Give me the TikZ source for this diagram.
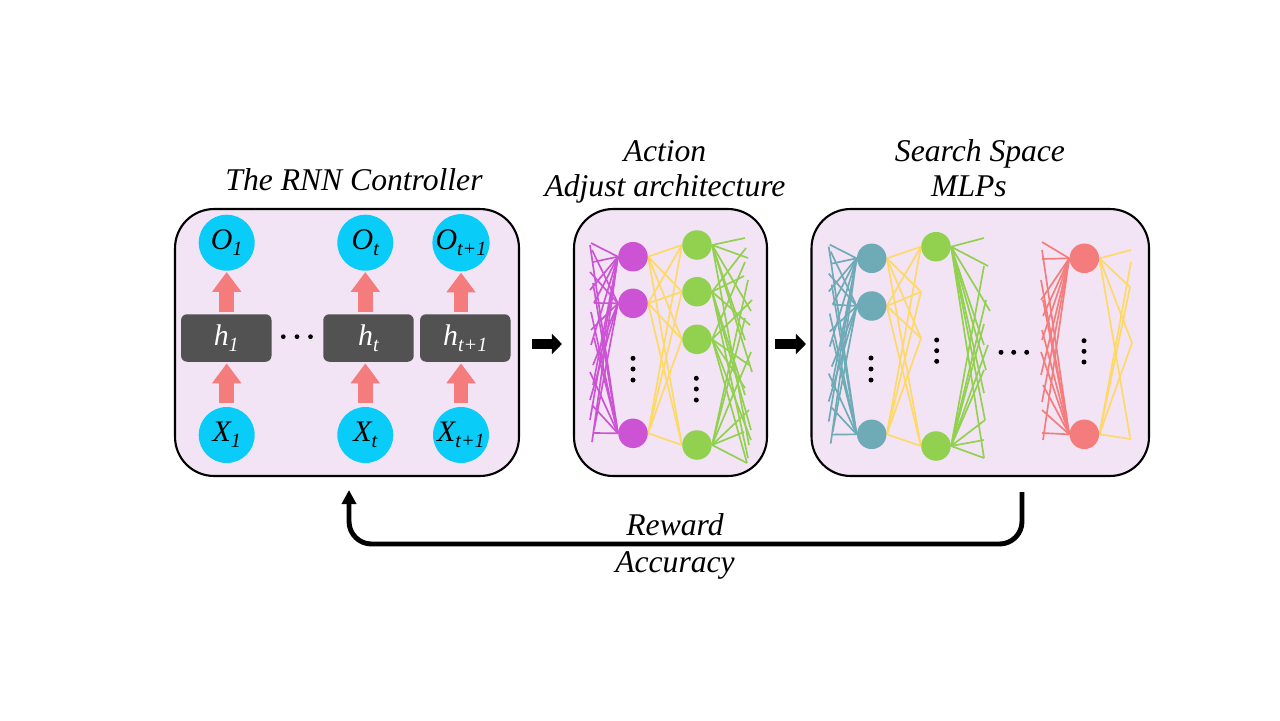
\documentclass[tikz,border=0pt]{standalone}
\usepackage{fontspec}
\setmainfont{Liberation Serif}
\usetikzlibrary{arrows.meta}
\definecolor{boxfill}{RGB}{242,228,244}
\definecolor{cyanc}{RGB}{10,204,248}
\definecolor{pinkc}{RGB}{244,124,124}
\definecolor{grayc}{RGB}{82,82,82}
\definecolor{purplec}{RGB}{204,84,212}
\definecolor{greenc}{RGB}{146,208,80}
\definecolor{yellowc}{RGB}{255,217,102}
\definecolor{tealc}{RGB}{111,170,183}
\pgfdeclarelayer{back}
\pgfdeclarelayer{mid}
\pgfsetlayers{back,mid,main}
\newcommand{\lbsub}[1]{\raisebox{-0.45ex}{\fontsize{11.5}{11.5}\selectfont #1}}
\begin{document}
\begin{tikzpicture}[x=0.02cm,y=-0.02cm,
  panel/.style={draw=black, line width=1.2pt, fill=boxfill, rounded corners=0.78cm, inner sep=0pt},
  io/.style={circle, fill=cyanc, minimum size=1.12cm, inner sep=0pt, font=\fontsize{17}{17}\selectfont\itshape},
  hid/.style={fill=grayc, rounded corners=0.12cm, minimum width=1.81cm, minimum height=0.95cm, inner sep=0pt, text=white, font=\fontsize{17}{17}\selectfont\itshape},
  neuron/.style={circle, minimum size=0.59cm, inner sep=0pt},
  fat/.style={draw=pinkc, line width=8.5pt, -{Triangle[length=11.3pt,width=16pt]}},
  blk/.style={draw=black, line width=5.7pt, -{Triangle[length=5.7pt,width=11.3pt]}},
  dot/.style={circle, fill=black, minimum size=0.1cm, inner sep=0pt},
  lbl/.style={font=\fontsize{18}{18}\selectfont\itshape, anchor=base},
  net/.style={line width=0.95pt}
]
\useasboundingbox (0,0) rectangle (1280,720);

% panels
\begin{pgfonlayer}{back}
\node[panel, minimum width=6.88cm, minimum height=5.34cm] (rnn) at (347,342.5) {};
\node[panel, minimum width=3.86cm, minimum height=5.34cm] (act) at (670.5,342.5) {};
\node[panel, minimum width=6.75cm, minimum height=5.34cm] (ss) at (980.25,342.5) {};
\end{pgfonlayer}

% titles
\node[lbl] (t1) at (354,190) {The RNN Controller};
\node[lbl] (t2) at (665,161) {Action};
\node[lbl] (t3) at (665,196) {Adjust architecture};
\node[lbl] (t4) at (980,161) {Search Space};
\node[lbl] (t5) at (969,196) {MLPs};
\node[lbl] (t6) at (675,535) {Reward};
\node[lbl] (t7) at (675,572) {Accuracy};

% RNN controller
\node[io] (O1) at (226.7,242.7) {O\lbsub{1}};
\node[io] (Ot) at (365.3,242.7) {O\lbsub{t}};
\node[io] (Ot1) at (461,242.7) {O\lbsub{t+1}};
\node[hid] (h1) at (226.3,338) {h\lbsub{1}};
\node[hid] (ht) at (368.5,338) {h\lbsub{t}};
\node[hid] (ht1) at (465.3,338) {h\lbsub{t+1}};
\node[io] (X1) at (226.7,435) {X\lbsub{1}};
\node[io] (Xt) at (365.3,435) {X\lbsub{t}};
\node[io] (Xt1) at (461,435) {X\lbsub{t+1}};
\foreach \x in {283.3,297,310.5} \node[dot, minimum size=0.095cm] at (\x,336.7) {};
\foreach \a/\b/\c in {X1/h1/O1, Xt/ht/Ot, Xt1/ht1/Ot1}{
  \draw[fat, shorten <=0.074cm, shorten >=0.026cm] (\a.north) -- (\a.north |- \b.south);
  \draw[fat, shorten <=0.046cm, shorten >=0.02cm] (\a.north |- \b.north) -- (\c.south);
}

% Action network
\node[neuron, fill=purplec] (P1) at (633,256.7) {};
\node[neuron, fill=purplec] (P2) at (633,303.3) {};
\node[neuron, fill=purplec] (P3) at (633,433.3) {};
\node[neuron, fill=greenc] (G1) at (697,245) {};
\node[neuron, fill=greenc] (G2) at (697,291.7) {};
\node[neuron, fill=greenc] (G3) at (697,339.3) {};
\node[neuron, fill=greenc] (G4) at (697,445) {};
\foreach \y in {358.3,369,380} \node[dot] at (633,\y) {};
\foreach \y in {378.3,389,400} \node[dot] at (696.3,\y) {};

% Search space network
\node[neuron, fill=tealc] (T1) at (871.7,258.3) {};
\node[neuron, fill=tealc] (T2) at (871.7,306) {};
\node[neuron, fill=tealc] (T3) at (871.7,434.3) {};
\node[neuron, fill=greenc] (GA) at (936,246.7) {};
\node[neuron, fill=greenc] (GB) at (936,446) {};
\node[neuron, fill=pinkc] (R1) at (1084.3,258.3) {};
\node[neuron, fill=pinkc] (R2) at (1084.3,434.3) {};
\coordinate (ya) at (921,291.7);
\coordinate (yb) at (921,338.3);
\foreach \y in {358,369,380} \node[dot] at (871,\y) {};
\foreach \y in {340,350.7,361.3} \node[dot] at (936.7,\y) {};
\foreach \x in {1001,1013.7,1026.7} \node[dot] at (\x,352.3) {};
\foreach \y in {340.7,351.3,362} \node[dot] at (1084,\y) {};

\begin{pgfonlayer}{mid}
% purple and teal fans
\foreach \n/\ex/\ey in {1/591/243,1/593/262,1/590/290,1/594/303,1/591/345,1/593/385,1/590/420,1/592/442,
  2/592/250,2/590/272,2/594/303,2/591/330,2/593/365,2/590/400,2/594/430,
  3/590/245,3/593/283,3/591/312,3/594/338,3/590/372,3/592/405,3/594/433}{
  \draw[net, purplec] (P\n.west) -- (\ex,\ey);
  \draw[net, tealc] (T\n.west) -- (\ex+238.7,\ey+1.6);
}
% yellow action
\foreach \a in {P1,P2,P3}{
  \foreach \b in {G1,G2,G3,G4} \draw[net, yellowc] (\a.east) -- (\b.west);
}
% green action
\foreach \n/\ex/\ey in {1/745/238,1/748/258,1/751/311,1/745/340,1/752/372,1/749/445,
  2/746/248,2/744/276,2/750/325,2/745/395,2/751/430,2/748/458,
  3/745/262,3/752/300,3/749/365,3/745/388,3/751/440,3/747/463,
  4/748/280,4/745/318,4/751/352,4/749/410,4/744/432,4/747/463}{
  \draw[net, greenc] (G\n.east) -- (\ex,\ey);
}
% yellow search space
\foreach \a in {T1,T2,T3}{
  \draw[net, yellowc] (\a.east) -- (GA.west);
  \draw[net, yellowc] (\a.east) -- (ya);
  \draw[net, yellowc] (\a.east) -- (yb);
  \draw[net, yellowc] (\a.east) -- (GB.west);
}
% green search space
\foreach \n/\ex/\ey in {A/984/238,A/988/266,A/990/311,A/984/345,A/986/370,A/984/393,A/985/420,A/984/458,
  B/984/266,B/986/300,B/984/324,B/988/345,B/984/370,B/985/420,B/984/440,B/984/458}{
  \draw[net, greenc] (G\n.east) -- (\ex,\ey);
}
% red fan
\foreach \n/\ex/\ey in {1/1042/242,1/1042/259,1/1041/300,1/1043/316,1/1042/340,1/1041/375,1/1042/402,1/1043/440,
  2/1042/250,2/1041/280,2/1043/300,2/1042/330,2/1041/352,2/1043/385,2/1042/410,2/1042/433}{
  \draw[net, pinkc] (R\n.west) -- (\ex,\ey);
}
% yellow after red
\foreach \n/\ex/\ey in {1/1131/250,1/1130/287,1/1132/343,1/1130/437,
  2/1131/262,2/1130/287,2/1132/343,2/1131/439}{
  \draw[net, yellowc] (R\n.east) -- (\ex,\ey);
}
\end{pgfonlayer}

% block arrows between panels
\draw[blk, shorten <=0.24cm, shorten >=0.22cm] ([yshift=-0.03cm]rnn.east) -- ([yshift=-0.03cm]act.west);
\draw[blk, shorten <=0.14cm, shorten >=0.09cm] ([yshift=-0.03cm]act.east) -- ([yshift=-0.03cm]ss.west);

% feedback
\coordinate (fbs) at (1022,492);
\coordinate (fbe) at (349,490);
\draw[line width=2.8pt, rounded corners=0.45cm, -{Triangle[length=8pt,width=8pt]}] (fbs) -- (1022,544) -- (349,544) -- (fbe);
\end{tikzpicture}
\end{document}
